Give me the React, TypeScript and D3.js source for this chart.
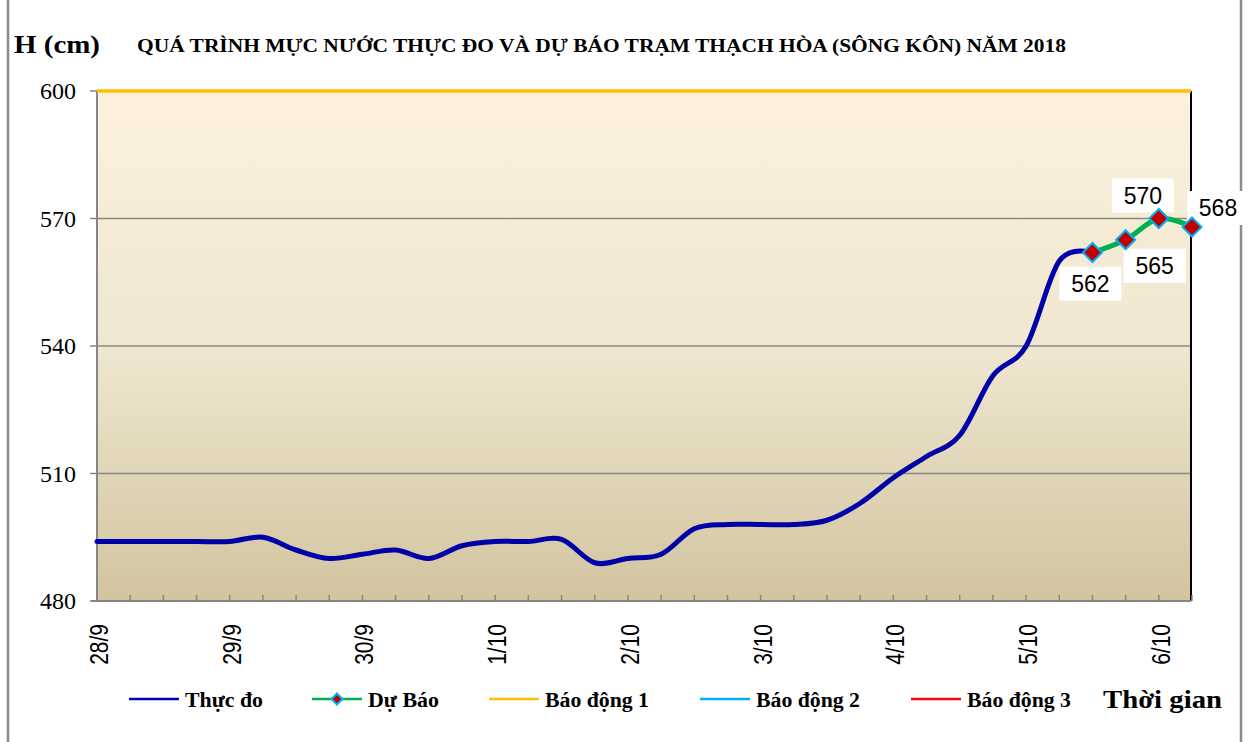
import React from "react";
import * as d3 from "d3";

// day labels, data is every 6 hours (4 steps per day)
const days = ["28/9", "29/9", "30/9", "1/10", "2/10", "3/10", "4/10", "5/10", "6/10"];
const categories = days.flatMap((d) => [d, "", "", ""]).slice(0, 34);

// Thực đo (observed), cm
const observed = [
  494, 494, 494, 494, 494, 495, 492, 490, 491, 492, 490, 493,
  494, 494, 494.5, 489, 490, 491, 497, 498, 498, 498, 499, 503,
  509, 514, 519, 533, 540, 560, 562,
];

// Dự báo (forecast), starts where the observed series ends
const forecast = [562, 565, 570, 568];
const forecastStart = 30;

const yTicks = [480, 510, 540, 570, 600];
const alarm1 = 600;

const legendNames = ["Thực đo", "Dự Báo", "Báo động 1", "Báo động 2", "Báo động 3"];
const legendColors = ["#0000A8", "#00B050", "#FFC000", "#00B0F0", "#FF0000"];

const W = 1254;
const H = 742;
const left = 97;
const right = 1191;
const top = 91;
const bottom = 601;

const serif = "'Liberation Serif', 'Times New Roman', serif";
const sans = "'Liberation Sans', Arial, sans-serif";

// label placement next to forecast points
const labelOffsets = [
  [-2, 31],
  [29, 26],
  [-16, -23],
  [26, -19],
];

const legendX = [129, 312, 489, 700, 911];
const legendTextW = [78, 71, 104, 104, 104];

export default function App() {
  const x = d3.scaleLinear().domain([0, categories.length - 1]).range([left, 1192]);
  const y = d3.scaleLinear().domain([480, 600]).range([bottom, top]);

  const obsLine = d3
    .line<number>()
    .x((d, i) => x(i))
    .y((d) => y(d))
    .curve(d3.curveCardinal.tension(0));

  const fcLine = d3
    .line<number>()
    .x((d, i) => x(forecastStart + i))
    .y((d) => y(d))
    .curve(d3.curveCardinal.tension(0));

  const diamond = d3.symbol(d3.symbolSquare, 180)() as string;

  return (
    <svg
      width={W}
      height={H}
      style={{ position: "absolute", left: 0, top: 0, background: "#fff" }}
    >
      <defs>
        <linearGradient id="bg" x1="0" y1="0" x2="0" y2="1">
          <stop offset="0%" stopColor="#FDF1DC" />
          <stop offset="50%" stopColor="#EFE7D0" />
          <stop offset="100%" stopColor="#D2C49F" />
        </linearGradient>
      </defs>

      {/* chart frame */}
      <line x1={8} x2={8} y1={0} y2={H} stroke="#8c8c8c" strokeWidth={2.5} />
      <line x1={1241} x2={1241} y1={0} y2={H} stroke="#8c8c8c" strokeWidth={2.5} />

      {/* titles */}
      <text x={14} y={53} fontFamily={serif} fontWeight="bold" fontSize={26} textLength={86} lengthAdjust="spacingAndGlyphs">
        H (cm)
      </text>
      <text
        x={137}
        y={52}
        fontFamily={serif}
        fontWeight="bold"
        fontSize={18}
        textLength={929}
        lengthAdjust="spacingAndGlyphs"
      >
        QUÁ TRÌNH MỰC NƯỚC THỰC ĐO VÀ DỰ BÁO TRẠM THẠCH HÒA (SÔNG KÔN) NĂM 2018
      </text>

      {/* plot area */}
      <rect x={left} y={top} width={right - left} height={bottom - top} fill="url(#bg)" />

      {yTicks.slice(1, -1).map((t) => (
        <line key={t} x1={left} x2={right} y1={y(t)} y2={y(t)} stroke="#888" strokeWidth={1.6} />
      ))}

      <line x1={right} x2={right} y1={top} y2={bottom} stroke="#000" strokeWidth={2} />

      {/* y axis */}
      <line x1={left} x2={left} y1={top} y2={bottom} stroke="#868686" strokeWidth={2} />
      {yTicks.map((t) => (
        <g key={t}>
          <line x1={left - 7} x2={left} y1={y(t)} y2={y(t)} stroke="#868686" strokeWidth={1.5} />
          <text
            x={76}
            y={y(t) + 8}
            textAnchor="end"
            fontFamily={serif}
            fontSize={24}
          >
            {t}
          </text>
        </g>
      ))}

      {/* Báo động 1 */}
      <line x1={left} x2={right} y1={y(alarm1)} y2={y(alarm1)} stroke="#FFC000" strokeWidth={3.5} />

      {/* x axis */}
      <line x1={left - 6} x2={right} y1={bottom} y2={bottom} stroke="#868686" strokeWidth={2} />
      {categories.map((c, i) =>
        i === 0 ? null : (
          <line
            key={i}
            x1={x(i)}
            x2={x(i)}
            y1={bottom}
            y2={bottom - 6}
            stroke="#868686"
            strokeWidth={1.5}
          />
        )
      )}
      {categories.map((c, i) =>
        c ? (
          <text
            key={"l" + i}
            transform={`translate(${x(i) + 11},${624}) scale(1.25,1) rotate(-90)`}
            textAnchor="end"
            fontFamily={sans}
            fontSize={21}
          >
            {c}
          </text>
        ) : null
      )}

      {/* series */}
      <path
        d={obsLine(observed) || ""}
        fill="none"
        stroke="#0000A8"
        strokeWidth={5}
        strokeLinejoin="round"
        strokeLinecap="round"
      />
      <path
        d={fcLine(forecast) || ""}
        fill="none"
        stroke="#00B050"
        strokeWidth={5}
        strokeLinejoin="round"
      />
      {forecast.map((v, i) => {
        const cx = x(forecastStart + i) + labelOffsets[i][0];
        const cy = y(v) + labelOffsets[i][1];
        return (
          <g key={"fl" + i}>
            <rect x={cx - 31} y={cy - 17} width={62} height={34} fill="#fff" />
            <text x={cx} y={cy + 8} textAnchor="middle" fontFamily={sans} fontSize={23}>
              {v}
            </text>
          </g>
        );
      })}
      {forecast.map((v, i) => (
        <path
          key={i}
          d={diamond}
          transform={`translate(${x(forecastStart + i)},${y(v)}) rotate(45)`}
          fill="#C00000"
          stroke="#00B0F0"
          strokeWidth={2}
        />
      ))}

      {/* legend */}
      {legendNames.map((n, i) => (
        <g key={n}>
          <line
            x1={legendX[i]}
            x2={legendX[i] + 50}
            y1={699}
            y2={699}
            stroke={legendColors[i]}
            strokeWidth={2.5}
          />
          {i === 1 ? (
            <path
              d={d3.symbol(d3.symbolSquare, 60)() as string}
              transform={`translate(${legendX[i] + 25},699) rotate(45)`}
              fill="#C00000"
              stroke="#00B0F0"
              strokeWidth={2}
            />
          ) : null}
          <text
            x={legendX[i] + 56}
            y={707}
            fontFamily={serif}
            fontWeight="bold"
            fontSize={20}
            textLength={legendTextW[i]}
            lengthAdjust="spacingAndGlyphs"
          >
            {n}
          </text>
        </g>
      ))}
      <text x={1103} y={708} fontFamily={serif} fontWeight="bold" fontSize={25} textLength={119} lengthAdjust="spacingAndGlyphs">
        Thời gian
      </text>
    </svg>
  );
}
